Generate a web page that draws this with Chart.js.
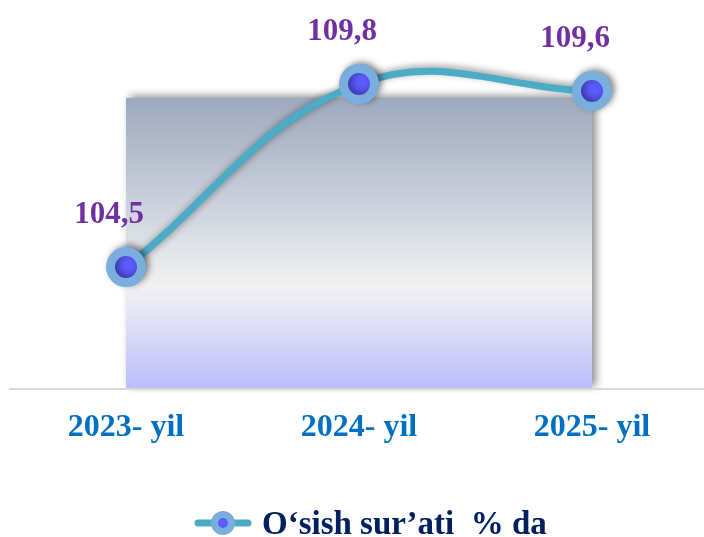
<!DOCTYPE html>
<html>
<head>
<meta charset="utf-8">
<script src="https://cdn.jsdelivr.net/npm/chart.js@4"></script>
<style>
  html, body { margin: 0; background: #fff; overflow: hidden; }
  #wrap { width: 710px; height: 537px; position: relative; }
</style>
</head>
<body>
<div id="wrap"><canvas id="grafik"></canvas></div>
<script>
const categories = ["2023- yil", "2024- yil", "2025- yil"];
const values = [104.5, 109.8, 109.6];
const valueLabels = ["104,5", "109,8", "109,6"];
const seriesName = "O‘sish sur’ati  % da";

const serif = "'Liberation Serif', 'Times New Roman', serif";

// fon paneli, chiziq va belgilar
const decorPlugin = {
  id: "decor",
  beforeDatasetsDraw(chart) {
    const { ctx, chartArea } = chart;
    const x = chart.scales.x;
    const y = chart.scales.y;
    const left = x.getPixelForValue(0);
    const right = x.getPixelForValue(2);
    const top = y.getPixelForValue(109.4);
    const bottom = chartArea.bottom;

    ctx.save();
    ctx.shadowColor = "rgba(0,0,0,0.45)";
    ctx.shadowBlur = 8;
    ctx.shadowOffsetX = 4;
    ctx.shadowOffsetY = -2;
    const g = ctx.createLinearGradient(0, top, 0, bottom);
    g.addColorStop(0, "#9ea9bd");
    g.addColorStop(0.35, "#c9cfdb");
    g.addColorStop(0.65, "#f2f2f2");
    g.addColorStop(0.8, "#dcdcf6");
    g.addColorStop(1, "#bdbdfe");
    ctx.fillStyle = g;
    ctx.fillRect(left, top, right - left, bottom - top);
    ctx.restore();

    // o'q chizig'i
    ctx.save();
    ctx.strokeStyle = "#d9d9d9";
    ctx.lineWidth = 2;
    ctx.beginPath();
    ctx.moveTo(9, bottom + 1);
    ctx.lineTo(710, bottom + 1);
    ctx.stroke();
    ctx.restore();

    ctx.save();
    ctx.shadowColor = "rgba(0,0,0,0.4)";
    ctx.shadowBlur = 7;
    ctx.shadowOffsetX = 3;
    ctx.shadowOffsetY = -2;
  },
  afterDatasetsDraw(chart) {
    const { ctx } = chart;
    ctx.restore();

    const meta = chart.getDatasetMeta(0);
    ctx.save();
    ctx.fillStyle = "#7030a0";
    ctx.font = "bold 31px " + serif;
    ctx.textAlign = "center";
    ctx.textBaseline = "alphabetic";
    meta.data.forEach((pt, i) => {
      ctx.fillText(valueLabels[i], pt.x - 17, pt.y - 44);
    });

    // kategoriya yozuvlari
    const x = chart.scales.x;
    ctx.fillStyle = "#0070c0";
    ctx.font = "bold 32px " + serif;
    categories.forEach((c, i) => {
      ctx.fillText(c, x.getPixelForValue(i), 436);
    });

    // legenda
    const ly = 523;
    ctx.strokeStyle = "#4bacc6";
    ctx.lineWidth = 7;
    ctx.lineCap = "round";
    ctx.beginPath();
    ctx.moveTo(198, ly);
    ctx.lineTo(248, ly);
    ctx.stroke();
    ctx.fillStyle = "#7aaede";
    ctx.beginPath();
    ctx.arc(223, ly, 12, 0, Math.PI * 2);
    ctx.fill();
    ctx.fillStyle = "#5b5bff";
    ctx.beginPath();
    ctx.arc(223, ly, 5, 0, Math.PI * 2);
    ctx.fill();
    ctx.fillStyle = "#002060";
    ctx.font = "bold 33px " + serif;
    ctx.textAlign = "left";
    ctx.fillText(seriesName, 262, 534);
    ctx.restore();
  }
};

const ctx = document.getElementById("grafik").getContext("2d");
new Chart(ctx, {
  type: "line",
  data: {
    labels: categories,
    datasets: [
      {
        label: seriesName,
        data: values,
        borderColor: "#4bacc6",
        borderWidth: 7,
        tension: 0.4,
        pointRadius: 15.5,
        pointHoverRadius: 15.5,
        pointBorderWidth: 9,
        pointBackgroundColor: "#5b5bff",
        pointBorderColor: "#7aaede",
        clip: false,
      },
    ],
  },
  options: {
    responsive: true,
    maintainAspectRatio: false,
    animation: false,
    layout: {
      autoPadding: false,
      padding: { top: 8, bottom: 149, left: 9.5, right: 1.5 },
    },
    scales: {
      x: { display: false, offset: true },
      y: { display: false, min: 101, max: 112 },
    },
    plugins: {
      legend: { display: false },
      tooltip: { enabled: false },
    },
  },
  plugins: [decorPlugin],
});
</script>
</body>
</html>
